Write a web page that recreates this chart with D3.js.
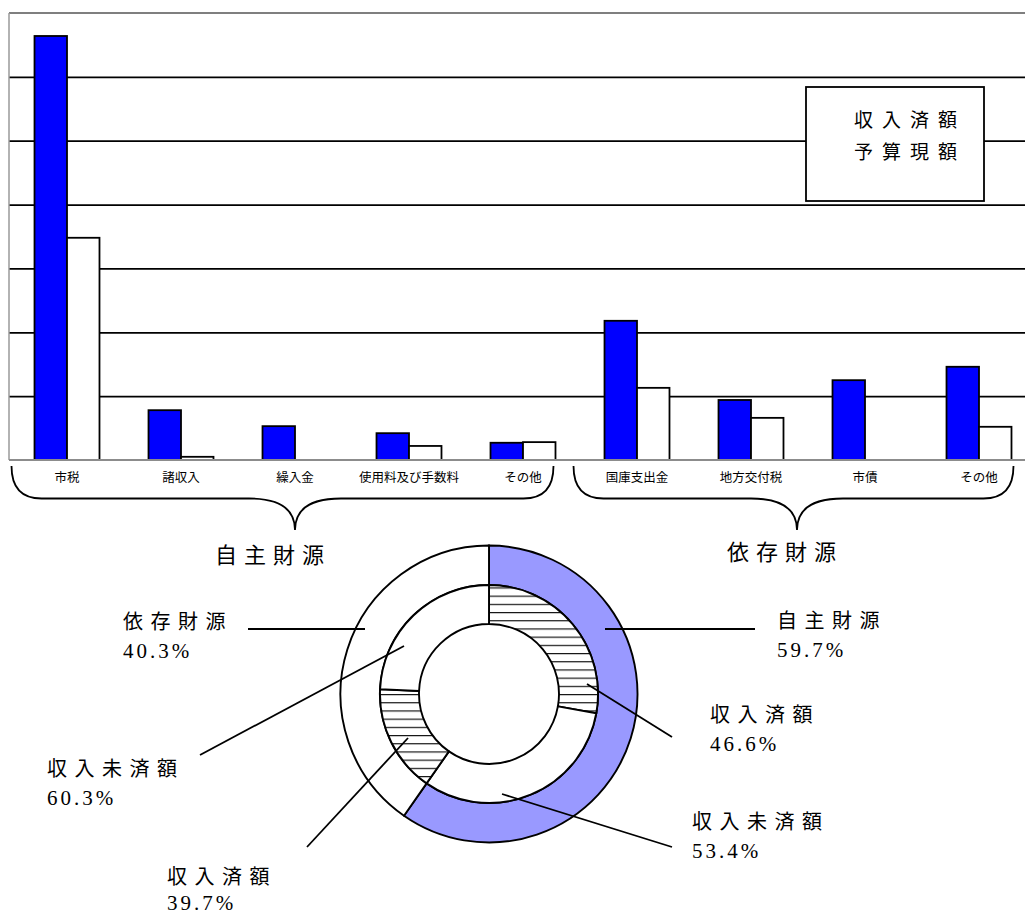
<!DOCTYPE html>
<html><head><meta charset="utf-8">
<script src="https://cdn.jsdelivr.net/npm/d3@7"></script>
<style>body{margin:0;background:#fff}svg{display:block}</style>
</head><body>
<script>
// ---- data ----
const categories = ['市税','諸収入','繰入金','使用料及び手数料','その他','国庫支出金','地方交付税','市債','その他'];
const seriesNames = ['収入済額','予算現額'];
const received = [6.64, 0.78, 0.53, 0.42, 0.27, 2.18, 0.94, 1.25, 1.46];
const budget   = [3.48, 0.05, 0.00, 0.22, 0.28, 1.13, 0.66, 0.00, 0.52];
const yTicks = [1, 2, 3, 4, 5, 6];
const yMax = 7;
const groupNames = ['自主財源','依存財源'];
const outerNames = ['自主財源','依存財源'];
const outerValues = [59.7, 40.3];
const innerNames = ['収入済額','収入未済額'];
const innerJishu = [46.6, 53.4];
const innerIzon = [39.7, 60.3];

// ---- layout ----
const W = 1025, H = 917;
const svg = d3.select('body').append('svg').attr('width', W).attr('height', H);
const FONT = '"Noto Sans CJK JP","Noto Sans",sans-serif';
const SERIF = '"Liberation Serif","DejaVu Serif",serif';

const defs = svg.append('defs');
const pat = defs.append('pattern').attr('id','hatch').attr('patternUnits','userSpaceOnUse')
  .attr('width', 8).attr('height', 8.2);
pat.append('rect').attr('width', 8).attr('height', 8.2).attr('fill', '#fff');
pat.append('line').attr('x1', 0).attr('x2', 8).attr('y1', 0.6).attr('y2', 0.6)
  .attr('stroke', '#000').attr('stroke-width', 1.1);

const y = d3.scaleLinear().domain([0, yMax]).range([460, 13]);
const x = d3.scaleBand().domain(d3.range(categories.length)).range([10, 1036])
  .paddingInner(0.43).paddingOuter(0.215);
const xs = d3.scaleBand().domain(seriesNames).range([0, x.bandwidth()]);
const left = 9;

const plot = svg.append('g');

// grid lines
const grid = plot.append('g').attr('transform', `translate(${left},0)`)
  .call(d3.axisRight(y).tickValues(yTicks).tickSize(W - left).tickFormat(''));
grid.select('.domain').remove();
grid.selectAll('line').attr('stroke', '#000').attr('stroke-width', 1.8);

// frame (gray)
plot.append('line').attr('x1', left).attr('x2', W).attr('y1', y(yMax)).attr('y2', y(yMax))
  .attr('stroke', '#7f7f7f').attr('stroke-width', 1.8);
plot.append('line').attr('x1', left).attr('x2', left).attr('y1', y(yMax)).attr('y2', y(0))
  .attr('stroke', '#9a9a9a').attr('stroke-width', 1.5);

// legend box
const lg = plot.append('g');
lg.append('rect').attr('x', 806).attr('y', 87).attr('width', 178).attr('height', 114)
  .attr('fill', '#fff').attr('stroke', '#000').attr('stroke-width', 1.8);
lg.selectAll('text').data(seriesNames).join('text')
  .attr('x', 854).attr('y', (d, i) => 118 + i * 32)
  .attr('dominant-baseline', 'central')
  .attr('font-family', FONT).attr('font-size', 19).attr('letter-spacing', 9)
  .attr('fill', '#000').text(d => d);

// bars
const barData = [];
categories.forEach((c, i) => {
  [received[i], budget[i]].forEach((v, j) => {
    if (v > 0) barData.push({i, s: seriesNames[j], v});
  });
});
plot.append('g').selectAll('rect').data(barData).join('rect')
  .attr('x', d => x(d.i) + xs(d.s))
  .attr('y', d => y(d.v))
  .attr('width', xs.bandwidth())
  .attr('height', d => y(0) - y(d.v))
  .attr('fill', d => d.s === seriesNames[0] ? '#0000ff' : '#fff')
  .attr('stroke', '#000').attr('stroke-width', 1.8);

// x axis
const xa = plot.append('g').attr('transform', `translate(0,${y(0)})`)
  .call(d3.axisBottom(x).tickSize(0).tickPadding(13).tickFormat(i => categories[i]));
xa.select('.domain').attr('d', `M${left},0H${W}`).attr('stroke', '#8c8c8c').attr('stroke-width', 1.8);
xa.selectAll('text').attr('font-family', FONT).attr('font-size', 12.5).attr('fill', '#000');

// braces
function brace(x0, x1, cx, y0, y1, y2, r, w) {
  return `M${x0},${y0} Q${x0},${y1} ${x0 + r},${y1} L${cx - w},${y1} Q${cx},${y1} ${cx},${y2}` +
         ` Q${cx},${y1} ${cx + w},${y1} L${x1 - r},${y1} Q${x1},${y1} ${x1},${y0}`;
}
const braceSpecs = [
  {x0: x(0) - 23, x1: x(4) + x.bandwidth() - 2, cx: x(2) + x.bandwidth() / 2, label: groupNames[0], lx: 215, ly: 553},
  {x0: x(5) - 31, x1: x(8) + x.bandwidth() + 2, cx: 797, label: groupNames[1], lx: 727, ly: 550}
];
svg.append('g').selectAll('path').data(braceSpecs).join('path')
  .attr('d', d => brace(d.x0, d.x1, d.cx, 466, 498.5, 530, 30, 46))
  .attr('fill', 'none').attr('stroke', '#000').attr('stroke-width', 1.8);
svg.append('g').selectAll('text').data(braceSpecs).join('text')
  .attr('x', d => d.lx).attr('y', d => d.ly).attr('dominant-baseline', 'central')
  .attr('font-family', FONT).attr('font-size', 22).attr('letter-spacing', 7)
  .attr('fill', '#000').text(d => d.label);

// donut
const cx = 489, cy = 694;
const rOuter = 148.5, rMid = 109, rIn = 70;
const pie = d3.pie().sort(null).value(d => d);
const outerArcs = pie(outerValues);
const innerSets = [innerJishu, innerIzon];
const innerArcs = [];
outerArcs.forEach((a, k) => {
  d3.pie().sort(null).value(d => d).startAngle(a.startAngle).endAngle(a.endAngle)(innerSets[k])
    .forEach((b, j) => innerArcs.push({...b, name: innerNames[j], parent: k}));
});
const arcO = d3.arc().innerRadius(rMid).outerRadius(rOuter);
const arcI = d3.arc().innerRadius(rIn).outerRadius(rMid);
const dg = svg.append('g').attr('transform', `translate(${cx},${cy})`);
dg.selectAll('path.o').data(outerArcs).join('path').attr('class', 'o')
  .attr('d', arcO).attr('fill', (d, i) => i === 0 ? '#9999ff' : '#fff')
  .attr('stroke', '#000').attr('stroke-width', 1.9);
dg.selectAll('path.i').data(innerArcs).join('path').attr('class', 'i')
  .attr('d', arcI).attr('fill', d => d.name === innerNames[0] ? 'url(#hatch)' : '#fff')
  .attr('stroke', '#000').attr('stroke-width', 1.9);

// donut labels (positions are layout only)
const labelLayout = [
  {ring: 'o', k: 1, tx: 123, ty: 620, dp: 31, line: [[248, 629], [365, 629]]},
  {ring: 'o', k: 0, tx: 777, ty: 619, dp: 31, line: [[605, 629], [755, 629]]},
  {ring: 'i', k: 3, tx: 47,  ty: 767, dp: 31, line: [[200, 755], [404, 646]]},
  {ring: 'i', k: 2, tx: 167, ty: 875, dp: 28, line: [[307, 847], [408, 738]]},
  {ring: 'i', k: 0, tx: 710, ty: 713, dp: 31, line: [[587, 684], [672, 737]]},
  {ring: 'i', k: 1, tx: 692, ty: 820, dp: 31, line: [[502, 794], [672, 847]]}
];
const lbl = labelLayout.map(l => {
  if (l.ring === 'o') return {...l, name: outerNames[l.k], pct: outerValues[l.k]};
  const a = innerArcs[l.k];
  return {...l, name: a.name, pct: a.value};
});
const lgG = svg.append('g');
lgG.selectAll('line').data(lbl).join('line')
  .attr('x1', d => d.line[0][0]).attr('y1', d => d.line[0][1])
  .attr('x2', d => d.line[1][0]).attr('y2', d => d.line[1][1])
  .attr('stroke', '#000').attr('stroke-width', 1.8);
lgG.selectAll('text.n').data(lbl).join('text').attr('class', 'n')
  .attr('x', d => d.tx).attr('y', d => d.ty).attr('dominant-baseline', 'central')
  .attr('font-family', FONT).attr('font-size', 20).attr('letter-spacing', 7.5)
  .attr('fill', '#000').text(d => d.name);
lgG.selectAll('text.p').data(lbl).join('text').attr('class', 'p')
  .attr('x', d => d.tx).attr('y', d => d.ty + d.dp).attr('dominant-baseline', 'central')
  .attr('font-family', SERIF).attr('font-size', 21).attr('letter-spacing', 3)
  .attr('fill', '#000').text(d => d3.format('.1f')(d.pct) + '%');
</script>
</body></html>
